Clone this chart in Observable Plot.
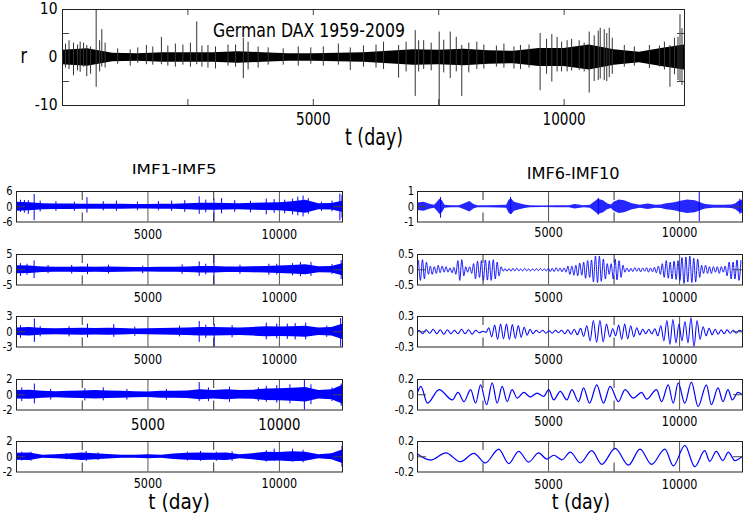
<!DOCTYPE html>
<html><head><meta charset="utf-8">
<script src="https://cdn.jsdelivr.net/npm/d3@7"></script>
<script src="https://cdn.jsdelivr.net/npm/@observablehq/plot@0.6"></script>
<style>
body{margin:0;background:#fff;}
#chart{position:relative;width:745px;height:516px;overflow:hidden;font-family:"DejaVu Sans",sans-serif;background:#fff;}
</style></head><body><div id="chart"></div>
<script>
// ---------- data ----------
const T_MAX = 12400;
const tGrid = [0,500,1000,1500,2000,2500,3000,3500,4000,4500,5000,5500,6000,6500,7000,7500,8000,8500,9000,9500,10000,10500,11000,11500,12000,12400];
const xLabelTicks = [5000, 10000];
const xMinorTicks = [2500, 7500];
const topTicksX = [2500, 5000, 7500, 10000];
const topTicksYInner = [-5, 5];
const topTicksY = [-10, 0, 10];

// German DAX returns r (dense band half-width and spikes)
const daxAmp = [1.5,1.8,0.9,0.8,1.0,1.0,1.0,1.2,1.0,0.8,0.8,0.9,1.0,1.3,1.6,1.5,1.7,1.4,1.3,1.9,1.9,2.6,1.6,1.1,2.0,2.6];
const daxSpikeT  = [130,219,352,484,671,784,1673,1972,2250,2676,2900,3300,3605,4700,5500,5737,6400,6700,7032,7200,7510,7730,7960,8260,8800,9130,9522,9755,9860,10060,10300,10500,10720,10800,10900,11200,11700,12110,12310,12350,
  60,300,420,560,740,850,1100,1350,1500,1800,2100,2400,2550,2780,3050,3450,3700,3900,4100,4400,4950,5200,6000,6250,6850,7100,7350,7600,7850,8100,8400,8650,9000,9300,9650,9950,10150,10400,10600,10680,10850,10960,11400,11900,12000,12200,12270];
const daxSpikeHi = [3.5,3.0,3.2,2.5,10.5,5.8,2.5,4.2,2.8,7.4,2.5,2.6,4.0,2.2,2.8,2.0,3.2,2.5,5.6,3.5,5.3,5.3,2.5,3.2,2.8,2.5,5.0,4.8,4.2,3.5,3.5,5.3,6.1,5.8,6.1,2.5,2.5,2.5,8.9,6.0,
  2.8,2.6,3.0,2.2,3.5,3.0,1.8,1.6,2.0,2.2,2.4,2.6,3.0,2.4,2.2,2.6,3.2,2.2,2.0,1.8,2.0,2.2,2.4,2.6,3.2,3.5,3.0,3.6,4.2,3.0,2.6,2.4,2.2,2.6,3.8,3.2,3.8,3.0,4.5,5.5,5.0,4.0,2.2,2.4,3.2,4.0,4.2];
const daxSpikeLo = [-2.5,-3.8,-3.1,-4.0,-6.2,-2.0,-1.5,-1.5,-2.0,-1.5,-2.2,-1.8,-4.4,-1.8,-1.6,-2.7,-2.5,-4.3,-8.1,-2.5,-10.5,-4.4,-8.1,-2.5,-2.2,-2.5,-6.9,-5.1,-3.0,-3.0,-2.7,-7.4,-4.5,-4.8,-4.2,-2.0,-2.3,-6.2,-5.1,-5.8,
  -2.2,-2.8,-2.0,-3.5,-3.0,-2.2,-1.4,-1.8,-1.2,-1.6,-1.8,-1.6,-2.0,-2.0,-2.4,-2.0,-2.6,-2.2,-1.6,-1.6,-1.4,-1.8,-2.0,-2.2,-3.0,-3.0,-2.8,-3.2,-3.0,-3.2,-2.4,-2.0,-2.4,-2.2,-3.5,-3.0,-2.8,-3.0,-5.0,-4.8,-5.0,-3.5,-1.8,-2.0,-2.6,-3.6,-4.8];

// IMF1 .. IMF5
const imf1Amp = [1.8,1.6,1.2,1.1,1.1,1.0,0.95,1.0,0.95,0.85,0.85,0.95,1.0,1.2,1.4,1.4,1.3,1.2,1.4,1.5,1.6,2.0,2.6,1.2,1.3,2.2];
const imf1SpikeT  = [300,672,2680,5900,6950,7510,7800,9500,10700,10900,12300,12380,150,450,900,1500,2200,3300,3800,4600,5400,6400,7200,8300,8900,9800,10200,10500,11100,11600,12000];
const imf1SpikeHi = [2.5,4.8,3.6,2.2,3.9,3.0,3.2,3.0,3.8,4.2,5.0,4.5,2.6,2.4,2.2,2.0,1.8,2.0,2.2,1.8,2.0,2.4,2.6,2.4,2.2,2.8,2.6,3.0,3.2,1.8,2.2];
const imf1SpikeLo = [-2.5,-5.5,-2.5,-1.8,-3.0,-6.5,-2.8,-3.2,-3.6,-4.0,-5.5,-4.5,-2.2,-3.0,-2.0,-1.8,-1.8,-1.6,-1.8,-1.6,-1.6,-2.2,-2.4,-2.2,-2.4,-2.6,-2.8,-3.2,-3.0,-1.8,-2.0];

const imf2Amp = [1.3,1.2,0.9,0.8,0.8,0.9,0.8,0.9,0.8,0.7,0.7,0.8,0.8,0.9,1.1,1.1,0.9,0.9,1.0,1.1,1.2,1.4,1.6,1.0,1.1,2.0];
const imf2SpikeT  = [670,2700,6950,7510,9600,10800,12350,150,400,1200,2100,3500,4800,6300,7200,8500,9900,10500,11200,12000];
const imf2SpikeHi = [2.9,1.8,2.6,5.5,1.8,2.4,3.0,2.0,1.8,1.4,1.4,1.5,1.2,1.6,1.8,1.5,1.8,2.0,2.4,1.7];
const imf2SpikeLo = [-2.9,-1.6,-2.2,-5.5,-1.8,-2.3,-3.2,-2.2,-1.8,-1.3,-1.4,-1.4,-1.3,-1.5,-1.7,-1.5,-1.7,-2.0,-2.2,-1.6];

const imf3Amp = [0.75,0.85,0.65,0.6,0.65,0.7,0.65,0.7,0.65,0.55,0.6,0.65,0.7,0.75,0.85,0.85,0.8,0.75,0.85,1.0,0.95,1.0,1.1,0.75,0.85,1.5];
const imf3SpikeT  = [680,2700,3700,6950,7520,9500,10600,12330,150,900,2000,4500,6200,7200,8200,9900,10300,11000,11800];
const imf3SpikeHi = [2.5,1.5,1.4,2.0,1.5,1.7,1.6,2.6,1.2,1.0,1.0,0.9,1.1,1.3,1.2,1.5,1.5,1.7,1.1];
const imf3SpikeLo = [-2.1,-1.2,-1.1,-2.1,-3.2,-1.6,-1.6,-3.2,-1.3,-1.0,-1.0,-0.9,-1.0,-1.3,-1.2,-1.4,-1.5,-1.6,-1.1];

const imf4Amp = [0.55,0.6,0.45,0.4,0.45,0.5,0.55,0.5,0.45,0.4,0.35,0.45,0.45,0.5,0.65,0.55,0.65,0.55,0.6,0.75,0.8,0.85,0.95,0.55,0.65,1.2];
const imf4SpikeT  = [680,3300,6950,9500,10400,10950,12350,200,1300,2600,4200,5700,7300,8100,9200,9900,11200,12000];
const imf4SpikeHi = [1.4,0.9,1.6,1.1,1.3,2.3,1.4,0.9,0.7,0.8,0.7,0.7,0.9,1.0,0.9,1.2,1.3,0.9];
const imf4SpikeLo = [-1.2,-0.8,-0.9,-1.0,-1.2,-2.5,-1.5,-0.9,-0.7,-0.8,-0.7,-0.7,-0.9,-1.0,-0.9,-1.1,-1.3,-0.9];

const imf5Amp = [0.45,0.5,0.2,0.25,0.35,0.5,0.4,0.3,0.2,0.2,0.25,0.2,0.35,0.45,0.5,0.45,0.5,0.25,0.4,0.6,0.55,0.65,0.6,0.25,0.4,0.9];
const imf5SpikeT  = [550,2650,7000,9800,10500,12380,200,1900,3100,6500,7600,8200,9500,10900];
const imf5SpikeHi = [0.6,0.7,0.7,1.0,1.0,1.4,0.6,0.4,0.5,0.6,0.6,0.65,0.8,0.85];
const imf5SpikeLo = [-0.6,-0.6,-0.6,-0.6,-0.7,-1.4,-0.55,-0.4,-0.5,-0.55,-0.6,-0.6,-0.7,-0.8];

// IMF6 (burst envelope)
const imf6T   = [0,250,500,650,760,850,950,1050,1300,1600,1800,2000,2150,2300,2700,3100,3400,3500,3600,3700,3900,4100,4300,4800,5300,5800,6000,6150,6350,6600,6750,6900,7100,7250,7400,7500,7700,7900,8200,8500,8800,9100,9300,9500,9750,9900,10000,10300,10600,10900,11000,11300,11700,12000,12150,12250,12400];
const imf6Amp = [0.25,0.3,0.15,0.1,0.3,0.5,0.4,0.1,0.06,0.07,0.2,0.35,0.15,0.07,0.06,0.08,0.1,0.45,0.5,0.3,0.2,0.12,0.06,0.05,0.06,0.07,0.15,0.12,0.07,0.1,0.3,0.5,0.4,0.2,0.12,0.3,0.45,0.4,0.2,0.1,0.18,0.1,0.12,0.2,0.25,0.3,0.35,0.45,0.4,0.2,0.15,0.1,0.1,0.12,0.2,0.35,0.45];
const imf6SpikeT  = [880,3550,6900,10750,12300];
const imf6SpikeHi = [0.6,0.6,0.55,0.95,0.5];
const imf6SpikeLo = [-0.75,-0.5,-0.55,-1.0,-0.5];

// IMF7 (extrema)
const imf7T = [40,112,190,262,340,418,490,562,640,718,
  790,862,940,1018,1090,1162,1240,1318,1390,1462,
  1540,1612,1690,1768,1840,1912,1990,2068,2140,2212,
  2290,2368,2440,2512,2590,2668,2740,2812,2890,2968,
  3040,3112,3190,3268,3340,3412,3490,3568,3640,3712,
  3790,3868,3940,4012,4090,4168,4240,4312,4390,4468,
  4540,4612,4690,4768,4840,4912,4990,5068,5140,5212,
  5290,5368,5440,5512,5590,5668,5740,5812,5890,5968,
  6040,6112,6190,6268,6340,6412,6490,6568,6640,6712,
  6790,6868,6940,7012,7090,7168,7240,7312,7390,7468,
  7540,7612,7690,7768,7840,7912,7990,8068,8140,8212,
  8290,8368,8440,8512,8590,8668,8740,8812,8890,8968,
  9040,9112,9190,9268,9340,9412,9490,9568,9640,9712,
  9790,9868,9940,10012,10090,10168,10240,10312,10390,10468,
  10540,10612,10690,10768,10840,10912,10990,11068,11140,11212,
  11290,11368,11440,11512,11590,11668,11740,11812,11890,11968,
  12040,12112,12190,12268,12340];
const imf7V = [0.30,-0.35,0.33,-0.30,0.25,-0.15,0.12,-0.15,0.10,-0.12,
  0.15,-0.10,0.12,-0.08,0.10,-0.08,0.06,-0.10,0.08,-0.15,
  0.30,-0.35,0.33,-0.20,0.10,-0.08,0.10,-0.12,0.20,-0.30,
  0.28,-0.25,0.30,-0.35,0.32,-0.34,0.30,-0.35,0.33,-0.30,
  0.25,-0.20,0.10,-0.05,0.04,-0.05,0.04,-0.05,0.05,-0.04,
  0.05,-0.04,0.03,-0.04,0.05,-0.04,0.03,-0.04,0.03,-0.03,
  0.04,-0.03,0.04,-0.03,0.03,-0.04,0.05,-0.06,0.05,-0.06,
  0.07,-0.05,0.06,-0.07,0.06,-0.08,0.12,-0.15,0.12,-0.18,
  0.15,-0.20,0.22,-0.18,0.25,-0.28,0.30,-0.25,0.32,-0.40,
  0.45,-0.42,0.45,-0.38,0.35,-0.30,0.20,-0.15,0.20,-0.30,
  0.35,-0.33,0.30,-0.25,0.15,-0.08,0.06,-0.07,0.05,-0.06,
  0.07,-0.05,0.06,-0.07,0.06,-0.05,0.07,-0.08,0.06,-0.07,
  0.08,-0.10,0.12,-0.15,0.20,-0.25,0.30,-0.28,0.25,-0.30,
  0.28,-0.32,0.30,-0.35,0.40,-0.45,0.42,-0.40,0.45,-0.42,
  0.38,-0.40,0.35,-0.25,0.15,-0.12,0.15,-0.12,0.10,-0.12,
  0.10,-0.08,0.10,-0.12,0.10,-0.08,0.12,-0.20,0.25,-0.30,
  0.25,-0.30,0.32,-0.35,0.30];

// IMF8 (extrema)
const imf8T = [0,60,195,330,465,600,735,870,1005,1140,1275,1410,1545,1680,1815,1950,2085,2220,2355,2500,2620,2720,2830,2945,3055,3170,3280,3395,3505,3620,3730,3845,3955,4070,4180,4295,4405,4530,4650,4780,4900,5020,5140,5260,5380,5500,5620,5740,5860,5980,6100,6220,6340,6460,6585,6710,6835,6960,7085,7210,7335,7450,7560,7675,7790,7905,8020,8135,8250,8365,8480,8595,8710,8825,8940,9055,9170,9285,9400,9515,9630,9745,9860,9975,10090,10205,10320,10435,10550,10665,10780,10895,11010,11125,11240,11355,11470,11585,11700,11815,11930,12045,12160,12275,12400];
const imf8V = [0,0.03,-0.04,0.04,-0.03,0.05,-0.04,0.04,-0.05,0.04,-0.04,0.03,-0.04,0.05,-0.04,0.04,-0.05,0.03,-0.02,0.01,-0.01,0.08,-0.1,0.13,-0.15,0.15,-0.14,0.15,-0.15,0.14,-0.13,0.12,-0.11,0.09,-0.07,0.05,-0.04,0.03,-0.02,0.03,-0.03,0.02,-0.03,0.03,-0.02,0.03,-0.04,0.04,-0.05,0.05,-0.06,0.07,-0.09,0.12,-0.18,0.22,-0.21,0.22,-0.2,0.15,-0.1,0.06,-0.08,0.13,-0.15,0.15,-0.14,0.12,-0.1,0.08,-0.06,0.05,-0.04,0.05,-0.04,0.06,-0.08,0.12,-0.18,0.22,-0.25,0.24,-0.22,0.15,-0.18,0.2,-0.22,0.28,-0.3,0.22,-0.15,0.1,-0.08,0.07,-0.06,0.05,-0.05,0.04,-0.04,0.04,-0.03,0.03,-0.03,0.03,0];

// IMF9, IMF10 (extrema)
const imf9T = [0,127,380,824,1330,1546,1774,2027,2217,2407,2635,2850,3040,3230,3420,3610,3800,4054,4308,4561,4815,5005,5195,5448,5700,5890,6145,6335,6563,6840,7095,7350,7665,7920,8235,8550,8742,9122,9312,9566,9756,9946,10200,10450,10706,11023,11213,11466,11656,11846,12011,12227,12400];
const imf9V = [0.03,0.11,-0.11,0.067,-0.067,0.03,-0.09,0.067,-0.11,0.13,-0.13,0.155,-0.11,0.11,-0.09,0.067,-0.044,0.03,-0.03,0.022,-0.022,0.067,-0.067,0.044,-0.067,0.067,-0.09,0.09,-0.11,0.13,-0.11,0.11,-0.09,0.067,-0.044,0.03,-0.058,0.067,-0.09,0.13,-0.11,0.155,-0.11,0.165,-0.155,0.13,-0.13,0.09,-0.09,0.067,-0.067,0.03,0.0];
const imf10T = [0,500,1080,1640,2150,2590,3100,3480,3860,4240,4620,4940,5200,5510,5830,6210,6650,7030,7540,8050,8490,8930,9440,9760,10200,10580,10960,11150,11400,11650,11860,12110,12400];
const imf10V = [0.035,-0.045,0.05,-0.065,0.045,-0.08,0.1,-0.09,0.07,-0.07,0.05,-0.03,0.02,-0.04,0.06,-0.08,0.08,-0.1,0.11,-0.11,0.1,-0.1,0.1,-0.12,0.15,-0.13,0.08,-0.06,0.07,-0.05,0.06,-0.05,0.01];

const yTicksLeft  = [[-6,0,6],[-5,0,5],[-3,0,3],[-2,0,2],[-2,0,2]];
const yTicksRight = [[-1,0,1],[-0.5,0,0.5],[-0.3,0,0.3],[-0.2,0,0.2],[-0.2,0,0.2]];

// ---------- drawing ----------
const BLUE = "#0000ff";
const chart = document.getElementById("chart");
function place(el, left, top) {
  el.style.position = "absolute";
  el.style.left = left + "px";
  el.style.top = top + "px";
  chart.appendChild(el);
  return el;
}
function squeeze(svg, label, size, k) {
  svg.querySelectorAll(`g[aria-label="${label}"]`).forEach(g => {
    g.style.fontSize = size + "px";
    g.setAttribute("fill", "#000");
    g.querySelectorAll("text").forEach(t => {
      const w = t.getComputedTextLength();
      t.setAttribute("textLength", (w * k).toFixed(2));
      t.setAttribute("lengthAdjust", "spacingAndGlyphs");
    });
  });
}
const band = (ts, amp) => ts.map((t, i) => ({t, lo: -amp[i], hi: amp[i]}));
const spikes = (T, H, L) => T.map((t, i) => ({t, hi: H[i], lo: L[i]}));
const series = (T, V) => T.map((t, i) => ({t, v: V[i]}));
const fmt = d => String(d);

// top panel
{
  const W = 745, H = 150, ml = 62, mr = 61, mt = 9, mb = 45;
  const fw = W - ml - mr, fh = H - mt - mb;
  const svg = Plot.plot({
    width: W, height: H, marginLeft: ml, marginRight: mr, marginTop: mt, marginBottom: mb,
    style: {fontFamily: "DejaVu Sans", color: "#000", background: "transparent"},
    x: {domain: [0, T_MAX], label: null}, y: {domain: [-10, 10], label: null},
    marks: [
      Plot.areaY(band(tGrid, daxAmp), {x: "t", y1: "lo", y2: "hi", fill: "#000", clip: true}),
      Plot.ruleX(spikes(daxSpikeT, daxSpikeHi, daxSpikeLo), {x: "t", y1: "lo", y2: "hi", stroke: "#333", strokeWidth: 1, clip: true}),
      Plot.tickX(topTicksX, {x: d => d, insetBottom: fh - 6, stroke: "#444"}),
      Plot.tickX(topTicksX, {x: d => d, insetTop: fh - 6, stroke: "#444"}),
      Plot.tickY(topTicksYInner, {y: d => d, insetRight: fw - 7, stroke: "#444"}),
      Plot.tickY(topTicksYInner, {y: d => d, insetLeft: fw - 7, stroke: "#444"}),
      Plot.frame({stroke: "#222"}),
      Plot.axisX({ticks: xLabelTicks, tickSize: 0, tickPadding: 7, tickFormat: fmt, label: null}),
      Plot.axisY({ticks: topTicksY, tickSize: 0, tickPadding: 5, tickFormat: fmt, label: null})
    ]
  });
  place(svg, 0, 0);
  squeeze(svg, "x-axis tick label", 17, 0.8);
  squeeze(svg, "y-axis tick label", 15, 0.93);
}

// small panels
const frameTops = [191, 253.5, 316, 378.5, 441];
const FH = 30.5, MT = 9, MB = 24;
const leftPad  = [7.3, 7, 7, 8.3, 6.8];
const rightPad = [5.3, 7, 7.3, 6.8, 7.1];
const leftXFont = [13.5, 13.5, 13.5, 16, 13.5];

const leftData = [
  {band: band(tGrid, imf1Amp), sp: spikes(imf1SpikeT, imf1SpikeHi, imf1SpikeLo)},
  {band: band(tGrid, imf2Amp), sp: spikes(imf2SpikeT, imf2SpikeHi, imf2SpikeLo)},
  {band: band(tGrid, imf3Amp), sp: spikes(imf3SpikeT, imf3SpikeHi, imf3SpikeLo)},
  {band: band(tGrid, imf4Amp), sp: spikes(imf4SpikeT, imf4SpikeHi, imf4SpikeLo)},
  {band: band(tGrid, imf5Amp), sp: spikes(imf5SpikeT, imf5SpikeHi, imf5SpikeLo)}
];
const rightData = [
  {band: band(imf6T, imf6Amp), sp: spikes(imf6SpikeT, imf6SpikeHi, imf6SpikeLo), op: 0.85},
  {line: series(imf7T, imf7V), sw: 0.9},
  {line: series(imf8T, imf8V), sw: 1.05},
  {line: series(imf9T, imf9V), sw: 1.2},
  {line: series(imf10T, imf10V), sw: 1.2}
];

function smallPanel(d, yTicks, left, width, ml, mr, top, xPad, xFont, yPad) {
  const H = FH + MT + MB;
  const fw = width - ml - mr;
  const yMax = yTicks[2];
  const marks = [Plot.ruleX(xLabelTicks, {stroke: "#555", strokeWidth: 1})];
  if (d.band) {
    marks.push(Plot.areaY(d.band, {x: "t", y1: "lo", y2: "hi", fill: BLUE, fillOpacity: d.op ?? 1, clip: true}));
    marks.push(Plot.ruleX(d.sp, {x: "t", y1: "lo", y2: "hi", stroke: BLUE, strokeWidth: 1, clip: true}));
  }
  if (d.line) {
    marks.push(Plot.line(d.line, {x: "t", y: "v", stroke: BLUE, strokeWidth: d.sw, curve: "monotone-x", clip: true}));
  }
  marks.push(
    Plot.tickX(xMinorTicks, {x: v => v, insetBottom: FH - 9, stroke: "#333"}),
    Plot.tickX(xMinorTicks, {x: v => v, insetTop: FH - 9, stroke: "#333"}),
    Plot.tickY([0], {y: v => v, insetRight: fw - 9, stroke: "#444"}),
    Plot.tickY([0], {y: v => v, insetLeft: fw - 9, stroke: "#444"}),
    Plot.frame({stroke: "#222"}),
    Plot.axisX({ticks: xLabelTicks, tickSize: 0, tickPadding: xPad, tickFormat: fmt, label: null}),
    Plot.axisY({ticks: yTicks, tickSize: 0, tickPadding: yPad, tickFormat: fmt, label: null})
  );
  const svg = Plot.plot({
    width, height: H, marginLeft: ml, marginRight: mr, marginTop: MT, marginBottom: MB,
    style: {fontFamily: "DejaVu Sans", color: "#000", background: "transparent"},
    x: {domain: [0, T_MAX], label: null}, y: {domain: [-yMax, yMax], label: null},
    marks
  });
  place(svg, left, top - MT);
  squeeze(svg, "x-axis tick label", xFont, 0.83);
  squeeze(svg, "y-axis tick label", 12, 0.82);
}

frameTops.forEach((top, i) => {
  smallPanel(leftData[i], yTicksLeft[i], 0, 350, 16, 8, top, leftPad[i], leftXFont[i], 4);
  smallPanel(rightData[i], yTicksRight[i], 371, 374, 46, 3, top, rightPad[i], 13.5, 3.5);
});

// text labels
const ov = d3.create("svg").attr("width", 745).attr("height", 516)
  .style("position", "absolute").style("left", "0px").style("top", "0px")
  .style("font-family", "DejaVu Sans").style("pointer-events", "none");
function label(txt, x, y, size, len) {
  ov.append("text").attr("x", x).attr("y", y).attr("font-size", size)
    .attr("textLength", len).attr("lengthAdjust", "spacingAndGlyphs")
    .attr("fill", "#000").text(txt);
}
label("German DAX 1959-2009", 213, 36.5, 19, 192);
label("r", 20.5, 63, 22, 6.5);
label("t (day)", 345, 145, 22.5, 58);
label("IMF1-IMF5", 131.7, 174, 14.6, 85);
label("IMF6-IMF10", 526.7, 179, 16, 93);
label("t (day)", 148.3, 508.8, 22, 61.7);
label("t (day)", 551.7, 508.8, 22, 58.3);
chart.appendChild(ov.node());
</script>
</body></html>
